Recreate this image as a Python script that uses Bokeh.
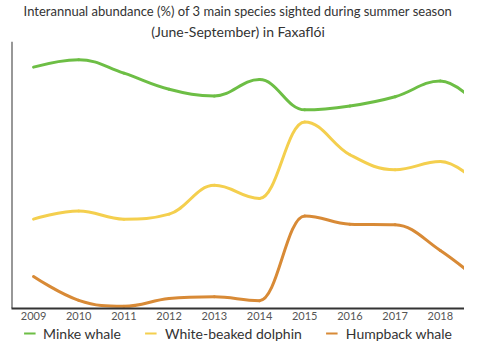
from bokeh.plotting import figure
from bokeh.layouts import column
from bokeh.models import Range1d, FixedTicker, Title, ColumnDataSource, Legend, LegendItem, Span
from bokeh.embed import file_html
from bokeh.resources import INLINE

years = [2009, 2010, 2011, 2012, 2013, 2014, 2015, 2016, 2017, 2018, 2019]
minke = [67.8, 69.9, 66.1, 61.6, 59.7, 64.3, 55.8, 56.9, 59.5, 63.9, 55.0]
dolphin = [25.1, 27.4, 25.1, 26.5, 34.6, 30.9, 52.4, 43.2, 39.0, 41.3, 33.2]
humpback = [9.0, 2.3, 0.6, 2.8, 3.3, 2.2, 26.0, 23.7, 23.5, 16.3, 6.4]

series_names = ["Minke whale", "White-beaked dolphin", "Humpback whale"]
series_colors = ["#6DBE45", "#F4CF4E", "#D88A36"]
title_line1 = "Interannual abundance (%) of 3 main species sighted during summer season"
title_line2 = "(June-September) in Faxaflói"
FONT = "Lato"
X_START, X_END = 2008.513, 2018.535


def spline(xs, ys, s=1.5):
    n = len(xs)
    lc = [(x, y) for x, y in zip(xs, ys)]
    rc = [(x, y) for x, y in zip(xs, ys)]
    for i in range(1, n - 1):
        x, y = xs[i], ys[i]
        lx, ly = xs[i - 1], ys[i - 1]
        nx, ny = xs[i + 1], ys[i + 1]
        d = s + 1
        lcx, lcy = (s * x + lx) / d, (s * y + ly) / d
        rcx, rcy = (s * x + nx) / d, (s * y + ny) / d
        if rcx != lcx:
            corr = ((rcy - lcy) * (rcx - x)) / (rcx - lcx) + y - rcy
            lcy += corr
            rcy += corr
        if lcy > ly and lcy > y:
            lcy = max(ly, y); rcy = 2 * y - lcy
        elif lcy < ly and lcy < y:
            lcy = min(ly, y); rcy = 2 * y - lcy
        if rcy > ny and rcy > y:
            rcy = max(ny, y); lcy = 2 * y - rcy
        elif rcy < ny and rcy < y:
            rcy = min(ny, y); lcy = 2 * y - rcy
        lc[i] = (lcx, lcy)
        rc[i] = (rcx, rcy)
    return dict(
        x0=xs[:-1], y0=ys[:-1], x1=xs[1:], y1=ys[1:],
        cx0=[c[0] for c in rc[:-1]], cy0=[c[1] for c in rc[:-1]],
        cx1=[c[0] for c in lc[1:]], cy1=[c[1] for c in lc[1:]],
    )


# main chart
p = figure(width=464, height=322, output_backend="svg", toolbar_location=None,
           x_range=Range1d(X_START, X_END), y_range=Range1d(0, 75),
           min_border_left=11, min_border_right=0,
           outline_line_color=None)
p.xgrid.visible = False
p.ygrid.visible = False
p.yaxis.visible = False

# separate small figure that only carries the legend (below the chart)
lf = figure(width=464, height=22, output_backend="svg", toolbar_location=None,
            x_range=Range1d(0, 1), y_range=Range1d(0, 1),
            x_axis_type=None, y_axis_type=None, outline_line_color=None,
            min_border_left=0, min_border_right=0, min_border_top=0, min_border_bottom=0)

items = []
for name, col, vals in zip(series_names, series_colors, [minke, dolphin, humpback]):
    src = ColumnDataSource(spline(years, vals))
    p.bezier(x0="x0", y0="y0", x1="x1", y1="y1", cx0="cx0", cy0="cy0", cx1="cx1", cy1="cy1",
             source=src, line_color=col, line_width=3, line_cap="round")
    r = lf.bezier(x0="x0", y0="y0", x1="x1", y1="y1", cx0="cx0", cy0="cy0", cx1="cx1", cy1="cy1",
                  source=src, line_color=col, line_width=2)
    items.append(LegendItem(label=name, renderers=[r]))

p.add_layout(Span(location=X_START, dimension="height", line_color="#333333", line_width=2))

legend = Legend(items=items, orientation="horizontal", location="center",
                label_text_font=FONT, label_text_font_size="14px", label_text_color="#333333",
                glyph_width=12, label_standoff=8, spacing=24,
                padding=0, margin=0, border_line_color=None, background_fill_alpha=0)
lf.add_layout(legend, "center")

xa = p.xaxis[0]
xa.ticker = FixedTicker(ticks=years)
xa.axis_line_color = "#333333"
xa.axis_line_width = 2
xa.major_tick_line_color = None
xa.minor_tick_line_color = None
xa.major_tick_out = 0
xa.major_label_text_font = FONT
xa.major_label_text_font_size = "11px"
xa.major_label_text_color = "#555555"
xa.major_label_standoff = 3

p.add_layout(Title(text=title_line2, align="center", text_font=FONT, text_font_size="14px",
                   text_font_style="normal", text_color="#333333", standoff=4), "above")
p.add_layout(Title(text=title_line1, align="center", text_font=FONT, text_font_size="13px",
                   text_font_style="normal", text_color="#333333", standoff=0), "above")

layout = column(p, lf, spacing=0)
open("out.html", "w").write(file_html(layout, INLINE))
